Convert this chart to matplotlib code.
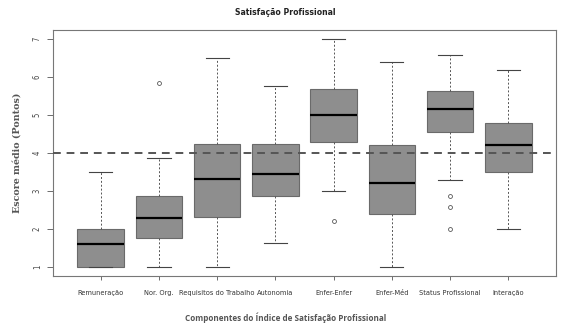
import matplotlib
matplotlib.use("Agg")
import matplotlib.pyplot as plt

# categorias e estatisticas
categorias = ["Remuneração", "Nor. Org.", "Requisitos do Trabalho", "Autonomia",
              "Enfer-Enfer", "Enfer-Méd", "Status Profissional", "Interação"]
lim_inf = [1.00, 1.00, 1.00, 1.64, 3.00, 1.00, 3.29, 1.99]
q1 = [1.00, 1.77, 2.32, 2.88, 4.30, 2.40, 4.56, 3.51]
mediana = [1.60, 2.28, 3.32, 3.44, 4.99, 3.21, 5.15, 4.20]
q3 = [2.00, 2.86, 4.24, 4.24, 5.68, 4.20, 5.64, 4.79]
lim_sup = [3.50, 3.86, 6.50, 5.76, 7.00, 6.39, 6.57, 6.19]
outliers = [[], [5.84], [], [], [2.21], [], [2.86, 2.58, 2.00], []]
referencia = 4.0

stats = []
for i in range(len(categorias)):
    stats.append(dict(label=categorias[i], whislo=lim_inf[i], q1=q1[i], med=mediana[i],
                      q3=q3[i], whishi=lim_sup[i], fliers=outliers[i]))

fig = plt.figure(figsize=(5.71, 3.26), dpi=100)
ax = fig.add_axes([0.0928, 0.1534, 0.881, 0.7546])

narrow = ["DejaVu Sans", "Liberation Sans"]

ax.bxp(stats, positions=range(1, len(categorias) + 1), widths=0.8, capwidths=0.4,
       patch_artist=True,
       boxprops=dict(facecolor="#8e8e8e", edgecolor="#6a6a6a", linewidth=0.8),
       medianprops=dict(color="black", linewidth=1.6),
       whiskerprops=dict(color="#555555", linestyle=(0, (2, 2)), linewidth=0.7),
       capprops=dict(color="#444444", linewidth=0.8),
       flierprops=dict(marker="o", markersize=2.8, markerfacecolor="none",
                       markeredgecolor="#555555", markeredgewidth=0.6))

ax.axhline(referencia, color="#555555", linestyle=(0, (4, 3)), linewidth=1.4, zorder=5)

ax.set_xlim(0.18, 8.82)
ax.set_ylim(0.76, 7.24)
ax.set_yticks([1, 2, 3, 4, 5, 6, 7])
ax.set_xticks(range(1, len(categorias) + 1))
ax.set_xticklabels(categorias, family=narrow, stretch="condensed", fontsize=5.3,
                   color="#333333")
for t in ax.get_yticklabels():
    t.set_rotation(90)
    t.set_va("center")
    t.set_family(narrow)
    t.set_stretch("condensed")
    t.set_fontsize(5.5)
    t.set_color("#444444")
ax.tick_params(axis="x", length=3, width=0.6, color="#555555", pad=7)
ax.tick_params(axis="y", length=4, width=0.6, color="#555555", pad=4)

for s in ax.spines.values():
    s.set_color("#777777")
    s.set_linewidth(0.8)

fig.text(0.5, 0.963, "Satisfação Profissional", ha="center", va="center",
         family=narrow, stretch="condensed", fontsize=6.2, fontweight="bold",
         color="#222222")
fig.text(0.5, 0.025, "Componentes do Índice de Satisfação Profissional", ha="center",
         va="center", family=["Open Sans", "DejaVu Sans"], fontsize=5.9,
         fontweight="bold", color="#555555")
fig.text(0.03, 0.53, "Escore médio (Pontos)", ha="center", va="center", rotation=90,
         family=["DejaVu Serif"], fontsize=6.8, fontweight="bold", color="#555555")

fig.savefig("out.png", dpi=100)
